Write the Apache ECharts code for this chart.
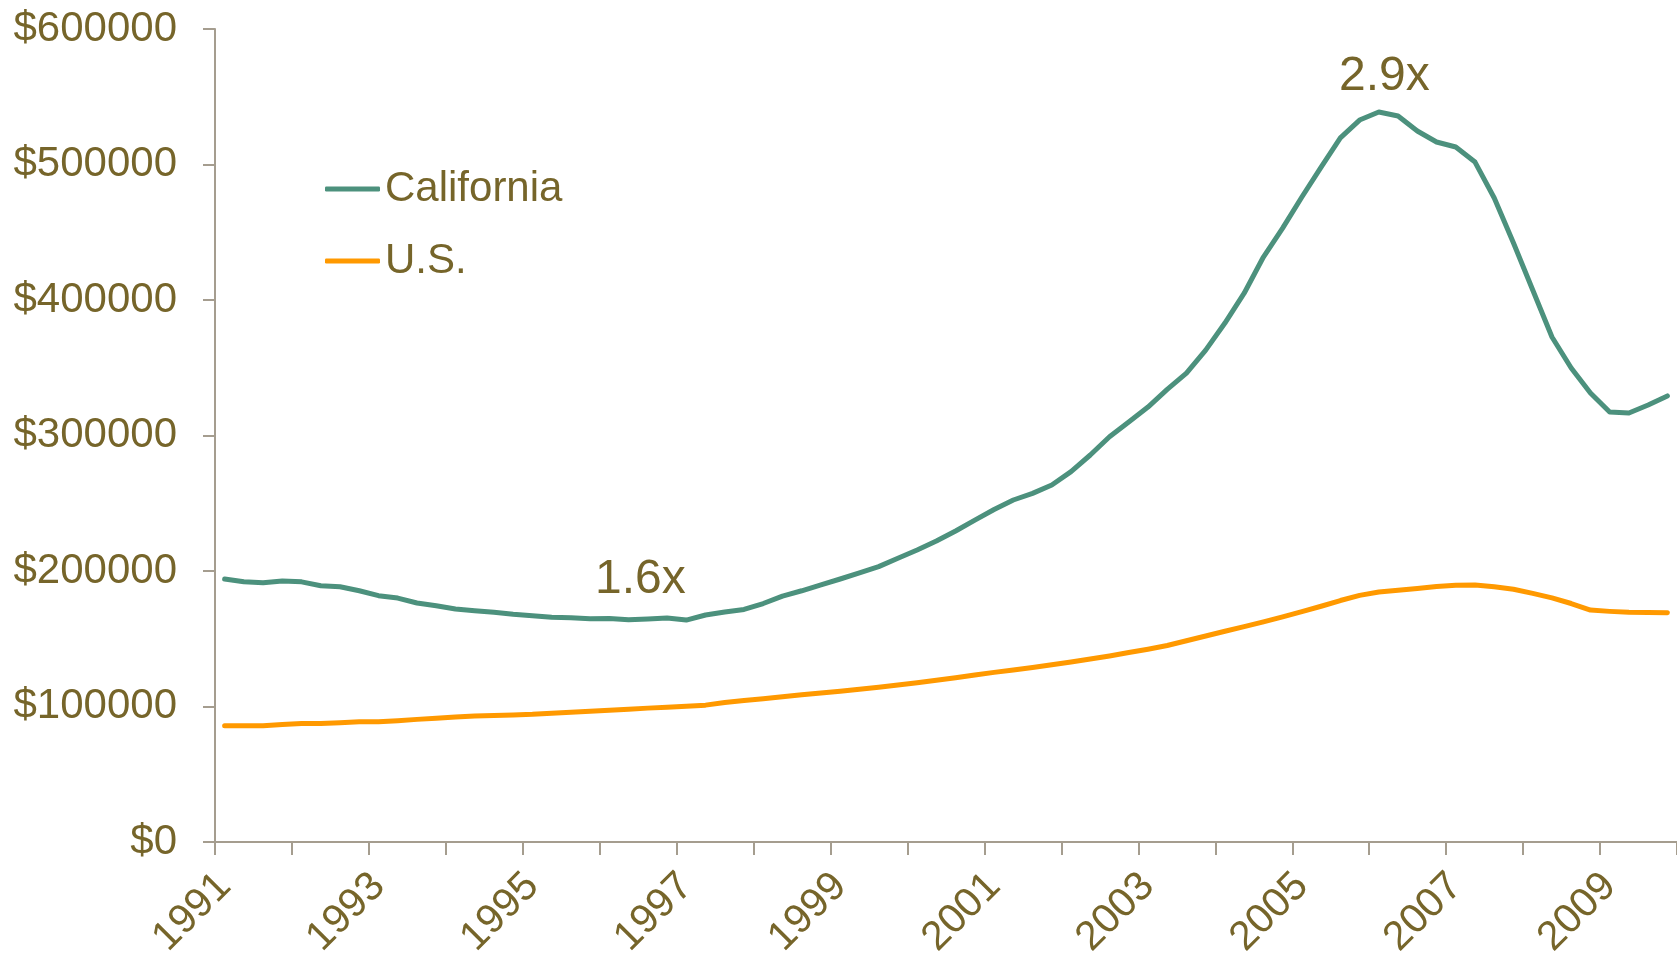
<!DOCTYPE html>
<html lang="en">
<head>
    <meta charset="UTF-8">
    <title>California vs U.S. median home price</title>
    <script type="text/javascript" src="https://cdn.jsdelivr.net/npm/echarts@6/dist/echarts.min.js"></script>
    <style>
        html, body {
            margin: 0;
            padding: 0;
            background-color: #ffffff;
            overflow: hidden;
        }
        #chart {
            width: 1677px;
            height: 960px;
        }
    </style>
</head>
<body>
    <div id="chart"></div>
<script type="text/javascript">
    // quarterly series, 1991 Q1 .. 2009 Q4 (values in dollars / 1000)
    var years = [1991, 1992, 1993, 1994, 1995, 1996, 1997, 1998, 1999, 2000,
                 2001, 2002, 2003, 2004, 2005, 2006, 2007, 2008, 2009];
    var quarters = ['Q1', 'Q2', 'Q3', 'Q4'];

    var california = [
        194.1, 192.0, 191.3, 192.6,
        192.0, 189.1, 188.4, 185.4,
        181.8, 180.0, 176.4, 174.4,
        172.0, 170.7, 169.5, 168.0,
        167.0, 165.8, 165.5, 164.8,
        165.0, 164.0, 164.6, 165.3,
        163.8, 167.5, 169.8, 171.6,
        176.0, 181.5, 185.4, 189.7,
        194.1, 198.7, 203.2, 209.4,
        215.5, 222.1, 229.5, 237.6,
        245.4, 252.4, 257.3, 263.5,
        273.3, 285.6, 299.1, 310.0,
        321.0, 334.0, 346.1, 363.0,
        383.0, 405.0, 431.7, 453.0,
        476.0, 498.0, 519.6, 532.8,
        538.7, 535.8, 524.7, 516.6,
        512.9, 501.8, 475.3, 442.0,
        407.4, 372.7, 349.8, 331.4,
        317.3, 316.6, 322.5, 329.2
    ];
    var us = [
        85.8, 85.8, 85.8, 86.8,
        87.5, 87.5, 88.0, 88.7,
        88.7, 89.5, 90.5, 91.3,
        92.2, 93.0, 93.4, 93.8,
        94.2, 95.0, 95.8, 96.5,
        97.2, 98.0, 98.8, 99.5,
        100.2, 101.0, 103.0, 104.5,
        105.8, 107.2, 108.6, 110.0,
        111.3, 112.7, 114.2, 115.8,
        117.5, 119.3, 121.2, 123.3,
        125.2, 127.0, 128.8, 130.8,
        132.8, 135.0, 137.3, 139.8,
        142.3, 145.0, 148.5, 152.0,
        155.5, 158.9, 162.5, 166.2,
        170.0, 174.0, 178.2, 182.0,
        184.5, 185.8, 187.0, 188.5,
        189.5, 189.7, 188.3, 186.5,
        183.5, 180.2, 176.0, 171.2,
        170.2, 169.5, 169.3, 169.2
    ];
    var yTicks = [0, 100000, 200000, 300000, 400000, 500000, 600000];
    var seriesNames = ['California', 'U.S.'];
    var notes = ['1.6x', '2.9x'];

    var categories = [];
    years.forEach(function(y) {
        quarters.forEach(function(q) { categories.push(y + ' ' + q); });
    });
    function toDollars(arr) {
        return arr.map(function(v) { return Math.round(v * 1000); });
    }

    var TEXT = '#76652a';
    var AXIS = '#a59d8f';
    var FONT = '"Liberation Sans", Arial, sans-serif';

    var chart = echarts.init(document.getElementById('chart'));
    var option = {
        backgroundColor: '#ffffff',
        animation: false,
        textStyle: { fontFamily: FONT },
        grid: { left: 215, right: 0, top: 29, bottom: 118, containLabel: false, outerBoundsMode: 'none' },
        legend: {
            orient: 'vertical',
            left: 320,
            top: 163,
            itemWidth: 55,
            itemHeight: 5,
            itemGap: 30,
            icon: 'roundRect',
            data: seriesNames,
            textStyle: { color: TEXT, fontSize: 42, fontFamily: FONT, lineHeight: 42, padding: [0, 0, 0, 0] }
        },
        xAxis: {
            type: 'category',
            boundaryGap: true,
            data: categories,
            axisLine: { lineStyle: { color: AXIS, width: 2 } },
            axisTick: { show: true, interval: 3, length: 13, lineStyle: { color: AXIS, width: 2 } },
            axisLabel: {
                interval: 7,
                rotate: 45,
                margin: 38,
                color: TEXT,
                fontSize: 41,
                fontFamily: FONT,
                formatter: function(v) { return v.slice(0, 4); }
            },
            splitLine: { show: false }
        },
        yAxis: {
            type: 'value',
            min: yTicks[0],
            max: yTicks[yTicks.length - 1],
            interval: yTicks[1] - yTicks[0],
            axisLine: { show: true, lineStyle: { color: AXIS, width: 2 } },
            axisTick: { show: true, length: 12, lineStyle: { color: AXIS, width: 2 } },
            axisLabel: {
                margin: 38,
                color: TEXT,
                fontSize: 42,
                fontFamily: FONT,
                formatter: function(v) { return '$' + v; }
            },
            splitLine: { show: false }
        },
        graphic: [
            {
                type: 'text', left: 595, top: 556,
                style: { text: notes[0], fill: TEXT, font: '48px ' + FONT }
            },
            {
                type: 'text', left: 1339, top: 53,
                style: { text: notes[1], fill: TEXT, font: '48px ' + FONT }
            }
        ],
        series: [
            {
                name: seriesNames[0],
                type: 'line',
                data: toDollars(california),
                symbol: 'none',
                color: '#4c917d',
                lineStyle: { width: 5, color: '#4c917d', join: 'round', cap: 'round' }
            },
            {
                name: seriesNames[1],
                type: 'line',
                data: toDollars(us),
                symbol: 'none',
                color: '#ff9900',
                lineStyle: { width: 5, color: '#ff9900', join: 'round', cap: 'round' }
            }
        ]
    };
    chart.setOption(option);
</script>
</body>
</html>
